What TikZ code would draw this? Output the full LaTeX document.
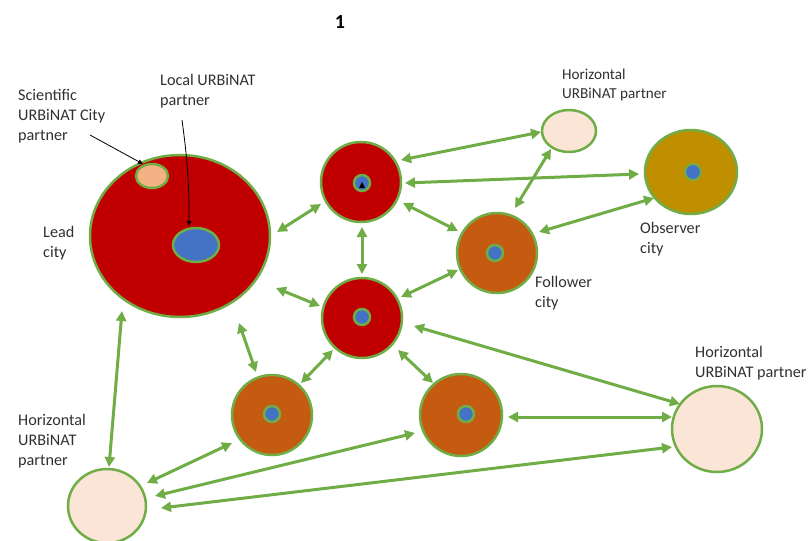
\documentclass[tikz,border=0pt]{standalone}
\usepackage{fontspec}
\setmainfont{Carlito}
\usetikzlibrary{arrows.meta,shapes.geometric,calc}
\definecolor{cred}{HTML}{C00000}
\definecolor{corange}{HTML}{C55A11}
\definecolor{colive}{HTML}{BF8F00}
\definecolor{cpeach}{HTML}{FBE5D6}
\definecolor{csalmon}{HTML}{F4B183}
\definecolor{cblue}{HTML}{4472C4}
\definecolor{cgreen}{HTML}{70AD47}
\definecolor{ctext}{HTML}{303030}
\begin{document}
\begin{tikzpicture}[x=1pt,y=-1pt,
  blob/.style={ellipse,draw=cgreen,line width=2.5pt,inner sep=0},
  city/.style={circle,draw=cgreen,line width=2.5pt,inner sep=0,minimum size=80pt},
  core/.style={circle,draw=cgreen,line width=2.5pt,fill=cblue,inner sep=0,minimum size=16pt},
  arr/.style={draw=cgreen,line width=3pt,{Triangle[length=10pt,width=10pt]}-{Triangle[length=10pt,width=10pt]}},
  pointer/.style={draw=black,line width=0.8pt,-{Triangle[length=5pt,width=4.5pt]}},
  lbl/.style={anchor=north west,inner sep=0,align=left,text=ctext,font=\fontsize{16.2}{19.8}\selectfont},
  lblsmall/.style={lbl,font=\fontsize{15.2}{18.5}\selectfont}
]
\useasboundingbox (0,0) rectangle (810,540);

% title
\node[font=\fontsize{20}{22}\selectfont\bfseries,text=black] (title) at (340,22) {1};

% lead city
\node[blob,fill=cred,minimum width=180pt,minimum height=162pt] (lead) at (180,236) {};
\node[blob,fill=csalmon,minimum width=32pt,minimum height=24pt] (sci) at (152,176) {};
\node[blob,fill=cblue,minimum width=46pt,minimum height=34pt] (loc) at (196,245) {};

% cities
\node[city,fill=cred] (top) at (361,182) {};
\node[core] (topc) at (362,183) {};
\fill[black] ($(topc)+(-3,5)$) -- ($(topc)+(3,5)$) -- ($(topc)+(0,-1)$) -- cycle;
\node[city,fill=cred] (mid) at (362,318) {};
\node[core] (midc) at (362,317) {};
\node[city,fill=corange] (fol) at (497,253) {};
\node[core] (folc) at (495,253) {};
\node[city,fill=corange] (bl) at (272,415) {};
\node[core] (blc) at (272,414) {};
\node[city,fill=corange,minimum size=82pt] (bc) at (461,415) {};
\node[core] (bcc) at (466,414) {};
\node[blob,fill=colive,minimum width=92pt,minimum height=84pt] (obs) at (691,172) {};
\node[core,line width=2pt] (obsc) at (693,172) {};

% horizontal partners
\node[blob,fill=cpeach,minimum width=54pt,minimum height=42pt] (hz1) at (569,131) {};
\node[blob,fill=cpeach,minimum width=90pt,minimum height=86pt] (hz2) at (717,429) {};
\node[blob,fill=cpeach,minimum width=78pt,minimum height=74pt] (hz3) at (107,506) {};

% labels
\node[lbl] (lsci) at (18,89.5) {Scientific\\URBiNAT City\\partner};
\node[lbl] (lloc) at (160,74.5) {Local URBiNAT\\partner};
\node[lbl] (llead) at (43,226.5) {Lead\\city};
\node[lblsmall] (lhz1) at (562,69) {Horizontal\\URBiNAT partner};
\node[lbl] (lobs) at (640,222.5) {Observer\\city};
\node[lbl] (lfol) at (535,276.5) {Follower\\city};
\node[lbl] (lhz2) at (695,346.5) {Horizontal\\URBiNAT partner};
\node[lbl] (lhz3) at (18,414.5) {Horizontal\\URBiNAT\\partner};

% black pointers
\draw[pointer] ($(sci)+(-62,-41)$) -- ($(sci)+(-9,-12)$);
\draw[pointer] ($(loc)+(-14,-125)$) to[bend left=4] ($(loc)+(-7,-19)$);

% green connectors
\draw[arr] ($(lead)+(97,-4)$) -- ($(top)+(-40,22)$);
\draw[arr] ($(lead)+(96,52)$) -- ($(mid)+(-42,-12)$);
\draw[arr] ($(lead)+(-58,75)$) -- ($(hz3)+(2,-39)$);
\draw[arr] ($(lead)+(59,87)$) -- ($(bl)+(-16,-43)$);
\draw[arr] ($(top)+(1,45)$) -- ($(mid)+(0,-44)$);
\draw[arr] ($(top)+(42,21)$) -- ($(fol)+(-39,-22)$);
\draw[arr] ($(mid)+(39,-21)$) -- ($(fol)+(-39,17)$);
\draw[arr] ($(top)+(40,-22)$) -- ($(hz1)+(-28,1)$);
\draw[arr] ($(top)+(44,1)$) -- ($(obs)+(-52,2)$);
\draw[arr] ($(fol)+(18,-45)$) -- ($(hz1)+(-18,18)$);
\draw[arr] ($(fol)+(42,-21)$) -- ($(obs)+(-37,26)$);
\draw[arr] ($(mid)+(-29,32)$) -- ($(bl)+(29,-32)$);
\draw[arr] ($(mid)+(36,32)$) -- ($(bc)+(-28,-32)$);
\draw[arr] ($(mid)+(52,8)$) -- ($(hz2)+(-37,-25)$);
\draw[arr] ($(bc)+(47,2)$) -- ($(hz2)+(-45,-12)$);
\draw[arr] ($(hz3)+(40,-23)$) -- ($(bl)+(-40,28)$);
\draw[arr] ($(hz3)+(48,-10)$) -- ($(bc)+(-46,18)$);
\draw[arr] ($(hz3)+(54,2)$) -- ($(hz2)+(-45,18)$);
\end{tikzpicture}
\end{document}
